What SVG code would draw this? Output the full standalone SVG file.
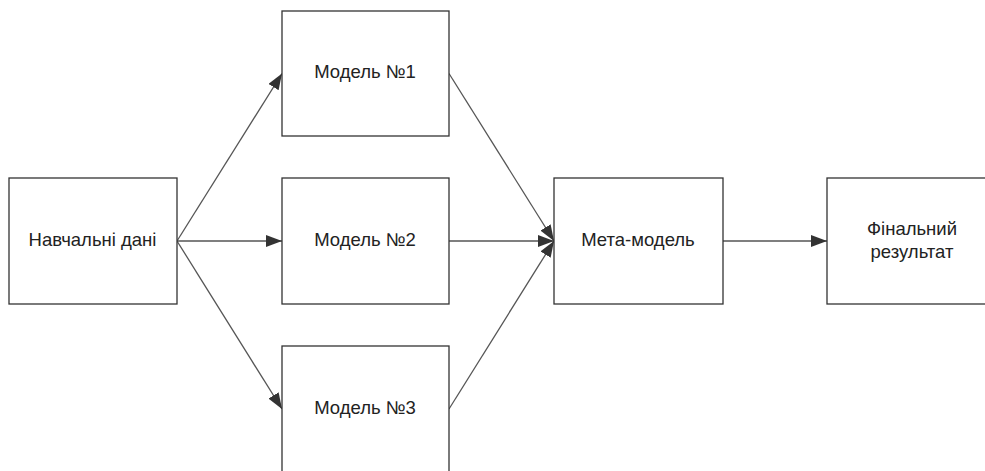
<svg xmlns="http://www.w3.org/2000/svg" width="985" height="471" viewBox="0 0 985 471">
<style>
.box{fill:#fff;stroke:#333;stroke-width:1.3}
.lbl{font-family:"Liberation Sans",Arial,sans-serif;font-size:18.5px;fill:#222;text-anchor:middle}
.edge{stroke:#555;stroke-width:1.3;fill:none;marker-end:url(#arr)}
</style>
<defs>
<marker id="arr" viewBox="0 0 16 12" refX="16" refY="6" markerWidth="16" markerHeight="12" markerUnits="userSpaceOnUse" orient="auto">
<path d="M0,0 L16,6 L0,12 z" fill="#333"/>
</marker>
</defs>
<rect width="985" height="471" fill="#fff"/>
<g id="connectors">
<line class="edge" x1="177" y1="241" x2="282" y2="73.5"/>
<line class="edge" x1="177" y1="241" x2="282" y2="241"/>
<line class="edge" x1="177" y1="241" x2="282" y2="409"/>
<line class="edge" x1="449" y1="73.5" x2="554" y2="241"/>
<line class="edge" x1="449" y1="241" x2="554" y2="241"/>
<line class="edge" x1="449" y1="409" x2="554" y2="241"/>
<line class="edge" x1="723" y1="241" x2="827" y2="241"/>
</g>
<g id="training-data">
<rect class="box" x="9" y="178" width="168" height="126"/>
<text class="lbl" x="92.5" y="246">Навчальні дані</text>
</g>
<g id="model-1">
<rect class="box" x="282" y="11" width="167" height="125"/>
<text class="lbl" x="365" y="78">Модель №1</text>
</g>
<g id="model-2">
<rect class="box" x="282" y="178" width="167" height="126"/>
<text class="lbl" x="365" y="246">Модель №2</text>
</g>
<g id="model-3">
<rect class="box" x="282" y="346" width="167" height="126"/>
<text class="lbl" x="365" y="414">Модель №3</text>
</g>
<g id="meta-model">
<rect class="box" x="554" y="178" width="169" height="126"/>
<text class="lbl" x="638" y="246">Мета-модель</text>
</g>
<g id="final-result">
<rect class="box" x="827" y="178" width="168" height="126"/>
<text class="lbl" x="912" y="235">Фінальний</text>
<text class="lbl" x="912" y="257.5">результат</text>
</g>
</svg>
